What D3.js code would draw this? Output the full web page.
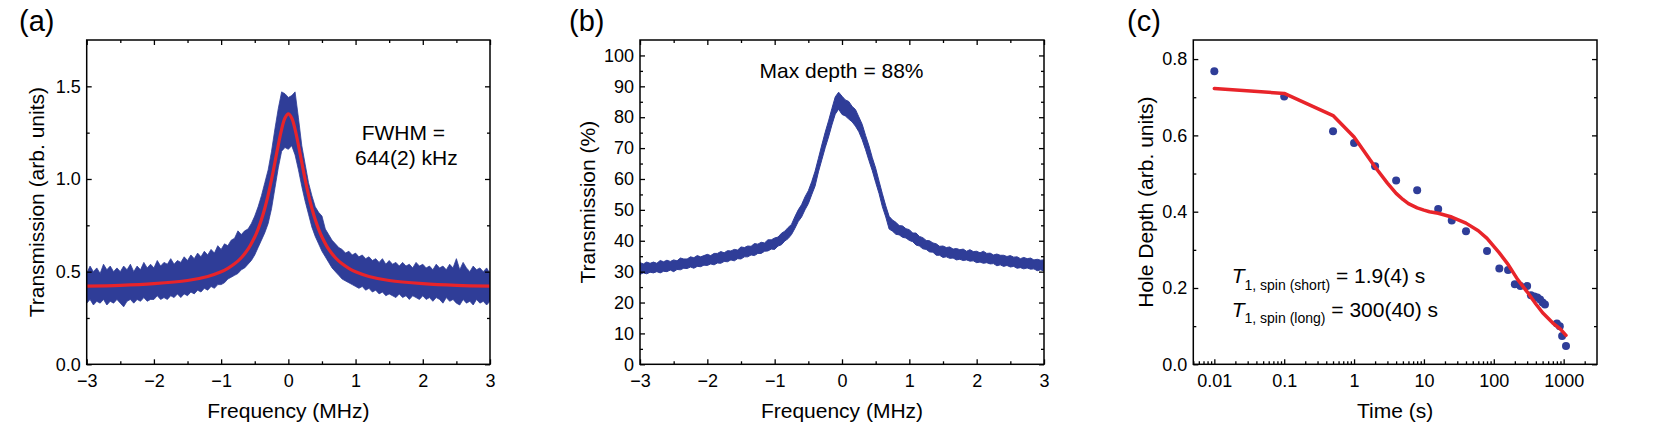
<!DOCTYPE html>
<html><head><meta charset="utf-8">
<script src="https://cdn.jsdelivr.net/npm/d3@7"></script>
<style>body{margin:0;background:#fff}svg{display:block;font-family:"Liberation Sans",Arial,Helvetica,sans-serif}</style>
</head><body><svg id="chart" width="1661" height="428"></svg>
<script>
// ---------- data ----------
const freq = [-3.00,-2.95,-2.90,-2.85,-2.80,-2.75,-2.70,-2.65,-2.60,-2.55,
-2.50,-2.45,-2.40,-2.35,-2.30,-2.25,-2.20,-2.15,-2.10,-2.05,
-2.00,-1.95,-1.90,-1.85,-1.80,-1.75,-1.70,-1.65,-1.60,-1.55,
-1.50,-1.45,-1.40,-1.35,-1.30,-1.25,-1.20,-1.15,-1.10,-1.05,
-1.00,-0.95,-0.90,-0.85,-0.80,-0.75,-0.70,-0.65,-0.60,-0.55,
-0.50,-0.45,-0.40,-0.35,-0.30,-0.25,-0.20,-0.15,-0.10,-0.05,
0.00,0.05,0.10,0.15,0.20,0.25,0.30,0.35,0.40,0.45,
0.50,0.55,0.60,0.65,0.70,0.75,0.80,0.85,0.90,0.95,
1.00,1.05,1.10,1.15,1.20,1.25,1.30,1.35,1.40,1.45,
1.50,1.55,1.60,1.65,1.70,1.75,1.80,1.85,1.90,1.95,
2.00,2.05,2.10,2.15,2.20,2.25,2.30,2.35,2.40,2.45,
2.50,2.55,2.60,2.65,2.70,2.75,2.80,2.85,2.90,2.95,
3.00];

// (a) noisy transmission: upper / lower envelope of the trace
const hiA = [0.49,0.53,0.50,0.52,0.49,0.54,0.51,0.53,0.50,0.52,
0.50,0.53,0.51,0.54,0.50,0.53,0.51,0.55,0.52,0.54,
0.52,0.56,0.53,0.55,0.54,0.57,0.54,0.56,0.55,0.58,
0.56,0.59,0.57,0.60,0.58,0.61,0.59,0.62,0.60,0.64,
0.62,0.65,0.64,0.67,0.68,0.72,0.70,0.72,0.73,0.76,
0.80,0.85,0.91,0.98,1.05,1.15,1.27,1.38,1.47,1.46,
1.44,1.45,1.47,1.33,1.18,1.08,0.98,0.91,0.85,0.82,
0.80,0.73,0.70,0.67,0.65,0.63,0.62,0.60,0.61,0.59,
0.60,0.58,0.59,0.57,0.58,0.56,0.57,0.55,0.57,0.54,
0.56,0.54,0.55,0.53,0.55,0.53,0.54,0.52,0.55,0.53,
0.54,0.52,0.53,0.51,0.54,0.52,0.53,0.51,0.54,0.52,
0.57,0.51,0.55,0.52,0.50,0.53,0.51,0.52,0.50,0.52,
0.49];
const loA = [0.33,0.35,0.32,0.34,0.33,0.35,0.32,0.34,0.33,0.35,
0.33,0.31,0.34,0.35,0.33,0.35,0.34,0.36,0.34,0.35,
0.35,0.37,0.35,0.36,0.35,0.37,0.36,0.38,0.36,0.38,
0.37,0.39,0.38,0.40,0.39,0.41,0.40,0.42,0.41,0.43,
0.43,0.44,0.46,0.47,0.48,0.49,0.51,0.52,0.54,0.56,
0.59,0.63,0.67,0.71,0.76,0.84,0.95,1.06,1.15,1.17,
1.16,1.18,1.13,1.05,0.96,0.88,0.81,0.74,0.69,0.65,
0.61,0.58,0.55,0.52,0.50,0.48,0.46,0.45,0.44,0.43,
0.42,0.41,0.42,0.40,0.41,0.39,0.40,0.38,0.39,0.37,
0.38,0.37,0.36,0.38,0.36,0.37,0.35,0.37,0.36,0.35,
0.37,0.35,0.36,0.34,0.36,0.35,0.33,0.36,0.34,0.35,
0.33,0.32,0.35,0.33,0.34,0.32,0.35,0.33,0.34,0.32,
0.34];

// (a) Lorentzian fit
const fitFreqA = [-3,-2.5,-2,-1.5,-1.2,-1,-0.9,-0.8,-0.7,-0.6,-0.5,-0.45,-0.4,-0.35,-0.3,-0.25,-0.2,-0.15,-0.1,-0.05,
0,0.05,0.1,0.15,0.2,0.25,0.3,0.35,0.4,0.45,0.5,0.6,0.7,0.8,0.9,1,1.2,1.5,2,2.5,3];
const fitValA = [0.422,0.426,0.435,0.452,0.474,0.499,0.518,0.542,0.575,0.621,0.687,0.729,0.781,0.842,0.914,0.997,1.089,1.183,1.268,1.329,
1.351,1.329,1.268,1.183,1.089,0.997,0.914,0.842,0.781,0.729,0.687,0.621,0.575,0.542,0.518,0.499,0.474,0.452,0.435,0.426,0.422];

// (b) transmission (%) envelope
const hiB = [32.9,32.5,33.1,32.7,33.1,32.7,33.6,33.2,33.7,33.3,
33.8,33.5,34.4,34.1,34.1,34.8,34.5,35.2,34.8,35.2,
35.6,35.2,35.9,35.9,36.5,36.1,36.8,36.7,37.2,37.0,
38.0,37.8,38.3,38.2,39.1,38.9,39.5,39.3,40.3,40.3,
40.9,41.2,42.4,43.1,44.3,45.3,47.8,50.0,51.7,54.2,
56.2,59.1,62.5,66.7,71.0,75.1,78.8,82.8,86.6,88.1,
86.8,85.6,85.1,83.5,82.5,80.1,77.7,74.1,70.8,66.9,
63.5,59.3,55.2,51.3,47.9,46.7,46.0,44.9,44.8,43.9,
43.6,42.5,42.5,41.4,41.0,40.1,40.0,39.3,39.0,38.2,
38.3,37.8,38.0,37.3,37.5,37.1,37.3,36.6,37.1,36.5,
36.6,36.1,36.6,35.9,36.0,35.4,35.7,35.3,35.3,34.9,
35.2,34.7,34.8,34.2,34.6,34.2,34.4,33.8,34.0,33.7,
33.8];
const loB = [29.1,29.6,29.3,29.8,29.6,30.0,29.6,30.1,30.0,30.5,
30.0,30.7,30.6,31.1,31.0,31.5,31.1,31.7,31.6,32.1,
32.0,32.5,32.2,32.8,32.7,33.3,33.2,33.8,33.5,34.2,
34.1,34.8,34.8,35.4,35.2,35.9,35.9,36.6,36.7,37.3,
37.2,38.3,38.7,39.9,40.7,42.0,44.0,46.2,47.7,50.0,
52.0,54.9,57.7,62.3,66.2,70.1,73.6,77.5,81.0,82.6,
80.9,80.4,79.4,78.5,77.1,75.3,72.7,69.5,66.0,62.7,
58.9,55.3,51.0,47.7,43.8,43.1,42.1,41.9,41.1,40.9,
40.1,39.7,38.6,38.3,37.4,37.2,36.4,36.3,35.3,35.3,
34.6,34.8,34.3,34.4,33.8,34.0,33.6,33.8,33.4,33.5,
32.9,33.1,32.7,32.9,32.5,32.6,31.9,32.2,31.7,32.0,
31.5,31.7,31.1,31.3,30.9,31.2,30.8,30.9,30.3,30.6,
30.2];

// (c) hole depth vs time
const timeC  = [0.01,0.1,0.5,1,2,4,8,16,25,40,80,120,160,200,240,300,340,380,420,460,500,540,800,880,950,1080];
const depthC = [0.768,0.702,0.611,0.580,0.519,0.482,0.456,0.407,0.377,0.349,0.297,0.251,0.247,0.210,0.205,0.205,0.181,0.178,0.175,0.170,0.162,0.157,0.107,0.100,0.074,0.048];
const fitTimeC = [0.01,0.1,0.5,1,2,3,4,5,6,8,10,12,16,25,40,60,80,120,160,220,300,400,500,700,900,1080];
const fitValC  = [0.723,0.710,0.652,0.596,0.517,0.475,0.448,0.432,0.421,0.410,0.404,0.400,0.396,0.386,0.370,0.350,0.330,0.292,0.262,0.222,0.190,0.158,0.135,0.108,0.092,0.076];

// ticks
const xTicksAB = [-3,-2,-1,0,1,2,3];
const xMinorAB = [-2.5,-1.5,-0.5,0.5,1.5,2.5];
const yTicksA = [0,0.5,1,1.5];
const yMinorA = [0.25,0.75,1.25];
const yTicksB = [0,10,20,30,40,50,60,70,80,90,100];
const yMinorB = [5,15,25,35,45,55,65,75,85,95];
const xTicksC = [0.01,0.1,1,10,100,1000];
const xTickLabelsC = ["0.01","0.1","1","10","100","1000"];
const yTicksC = [0,0.2,0.4,0.6,0.8];
const yMinorC = [0.1,0.3,0.5,0.7];

// ---------- drawing ----------
const svg = d3.select("#chart");
const BLUE = "#2f3d98", RED = "#e8242a";
const TOP = 40, H = 324.3;
const TICK_FS = 18, TITLE_FS = 21;

function makePanel(id, left, width) {
  const g = svg.append("g").attr("transform", `translate(${left},${TOP})`);
  g.append("clipPath").attr("id", "clip" + id).append("rect").attr("width", width).attr("height", H);
  const plot = g.append("g").attr("clip-path", `url(#clip${id})`);
  return {g, plot};
}

function styleAxis(sel, showText) {
  sel.attr("font-size", null).attr("font-family", null);
  sel.select(".domain").remove();
  sel.selectAll(".tick line").attr("stroke", "#000").attr("stroke-width", 1.3);
  if (showText) sel.selectAll(".tick text").attr("font-size", TICK_FS).attr("fill", "#000");
  else sel.selectAll(".tick text").remove();
}

function drawAxes(g, x, y, o) {
  const w = x.range()[1];
  const b1 = g.append("g").attr("transform", `translate(0,${H})`)
    .call(d3.axisBottom(x).tickValues(o.xMajor).tickSize(-5).tickPadding(9.5).tickFormat(o.xFmt));
  styleAxis(b1, true);
  const b2 = g.append("g").attr("transform", `translate(0,${H})`)
    .call(d3.axisBottom(x).tickValues(o.xMinor).tickSize(-3).tickFormat(""));
  styleAxis(b2, false);
  if (o.top) {
    const t1 = g.append("g").call(d3.axisTop(x).tickValues(o.xMajor).tickSize(-5).tickFormat(""));
    styleAxis(t1, false);
    const t2 = g.append("g").call(d3.axisTop(x).tickValues(o.xMinor).tickSize(-3).tickFormat(""));
    styleAxis(t2, false);
  }
  const l1 = g.append("g").call(d3.axisLeft(y).tickValues(o.yMajor).tickSize(-5).tickPadding(6).tickFormat(o.yFmt));
  styleAxis(l1, true);
  const l2 = g.append("g").call(d3.axisLeft(y).tickValues(o.yMinor).tickSize(-3).tickFormat(""));
  styleAxis(l2, false);
  const r1 = g.append("g").attr("transform", `translate(${w},0)`).call(d3.axisRight(y).tickValues(o.yMajor).tickSize(-5).tickFormat(""));
  styleAxis(r1, false);
  const r2 = g.append("g").attr("transform", `translate(${w},0)`).call(d3.axisRight(y).tickValues(o.yMinor).tickSize(-3).tickFormat(""));
  styleAxis(r2, false);
  g.append("rect").attr("width", w).attr("height", H).attr("fill", "none").attr("stroke", "#000").attr("stroke-width", 1.5);
}

function titles(left, width, xTitle, yTitle, yTitleX) {
  svg.append("text").attr("x", left + width / 2).attr("y", 418).attr("text-anchor", "middle")
    .attr("font-size", TITLE_FS).attr("fill", "#000").text(xTitle);
  svg.append("text").attr("transform", `translate(${yTitleX},${TOP + H / 2}) rotate(-90)`)
    .attr("text-anchor", "middle").attr("font-size", TITLE_FS).attr("fill", "#000").text(yTitle);
}

function panelLabel(x, s) {
  svg.append("text").attr("x", x).attr("y", 31).attr("font-size", 29).attr("fill", "#000").text(s);
}

// ----- panel (a) -----
{
  const left = 86.7, W = 403.3;
  const {g, plot} = makePanel("a", left, W);
  const x = d3.scaleLinear().domain([-3, 3]).range([0, W]);
  const y = d3.scaleLinear().domain([0, 1.75]).range([H, 0]);
  const idx = d3.range(freq.length);
  plot.append("path").datum(idx)
    .attr("d", d3.area().x(i => x(freq[i])).y0(i => y(loA[i])).y1(i => y(hiA[i])))
    .attr("fill", BLUE).attr("stroke", BLUE).attr("stroke-width", 0.8);
  const fi = d3.range(fitFreqA.length);
  plot.append("path").datum(fi)
    .attr("d", d3.line().x(i => x(fitFreqA[i])).y(i => y(fitValA[i])).curve(d3.curveCatmullRom))
    .attr("fill", "none").attr("stroke", RED).attr("stroke-width", 3.2).attr("stroke-linejoin", "round");
  drawAxes(g, x, y, {xMajor: xTicksAB, xMinor: xMinorAB, yMajor: yTicksA, yMinor: yMinorA,
    xFmt: d3.format("d"), yFmt: d3.format(".1f"), top: true});
  g.append("text").attr("x", 361.7 - left).attr("y", 139.5 - TOP).attr("font-size", 21).text("FWHM =");
  g.append("text").attr("x", 355 - left).attr("y", 165 - TOP).attr("font-size", 21).text("644(2) kHz");
  titles(left, W, "Frequency (MHz)", "Transmission (arb. units)", 44);
  panelLabel(19, "(a)");
}

// ----- panel (b) -----
{
  const left = 640, W = 404;
  const {g, plot} = makePanel("b", left, W);
  const x = d3.scaleLinear().domain([-3, 3]).range([0, W]);
  const y = d3.scaleLinear().domain([0, 105]).range([H, 0]);
  const idx = d3.range(freq.length);
  plot.append("path").datum(idx)
    .attr("d", d3.area().x(i => x(freq[i])).y0(i => y(loB[i])).y1(i => y(hiB[i])))
    .attr("fill", BLUE).attr("stroke", BLUE).attr("stroke-width", 1);
  drawAxes(g, x, y, {xMajor: xTicksAB, xMinor: xMinorAB, yMajor: yTicksB, yMinor: yMinorB,
    xFmt: d3.format("d"), yFmt: d3.format("d"), top: true});
  g.append("text").attr("x", 841.5 - left).attr("y", 77.7 - TOP).attr("text-anchor", "middle")
    .attr("font-size", 21).text("Max depth = 88%");
  titles(left, W, "Frequency (MHz)", "Transmission (%)", 594.5);
  panelLabel(569, "(b)");
}

// ----- panel (c) -----
{
  const left = 1193.3, W = 403.7;
  const {g, plot} = makePanel("c", left, W);
  const x = d3.scaleLog().domain([0.005, 3000]).range([0, W]);
  const y = d3.scaleLinear().domain([0, 0.85]).range([H, 0]);
  const xMinorC = [];
  [0.001, 0.01, 0.1, 1, 10, 100, 1000].forEach(d => {
    for (let k = 2; k <= 9; k++) { const v = k * d; if (v >= 0.005 && v < 3000) xMinorC.push(v); }
  });
  const fi = d3.range(fitTimeC.length);
  const di = d3.range(timeC.length);
  plot.selectAll("circle").data(di).join("circle")
    .attr("cx", i => x(timeC[i])).attr("cy", i => y(depthC[i])).attr("r", 4).attr("fill", BLUE);
  plot.append("path").datum(fi)
    .attr("d", d3.line().x(i => x(fitTimeC[i])).y(i => y(fitValC[i])))
    .attr("fill", "none").attr("stroke", RED).attr("stroke-width", 3.5).attr("stroke-linejoin", "round").attr("stroke-linecap", "round");
  drawAxes(g, x, y, {xMajor: xTicksC, xMinor: xMinorC, yMajor: yTicksC, yMinor: yMinorC,
    xFmt: (d, i) => xTickLabelsC[i], yFmt: d3.format(".1f"), top: false});
  const t1 = g.append("text").attr("x", 1231.7 - left).attr("y", 283.3 - TOP).attr("font-size", 21);
  t1.append("tspan").attr("font-style", "italic").text("T");
  t1.append("tspan").attr("font-size", 14).attr("dy", 6.7).text("1, spin (short)");
  t1.append("tspan").attr("dy", -6.7).text(" = 1.9(4) s");
  const t2 = g.append("text").attr("x", 1231.7 - left).attr("y", 316.7 - TOP).attr("font-size", 21);
  t2.append("tspan").attr("font-style", "italic").text("T");
  t2.append("tspan").attr("font-size", 14).attr("dy", 6.7).text("1, spin (long)");
  t2.append("tspan").attr("dy", -6.7).text(" = 300(40) s");
  titles(left, W, "Time (s)", "Hole Depth (arb. units)", 1152.6);
  panelLabel(1127, "(c)");
}
</script></body></html>
